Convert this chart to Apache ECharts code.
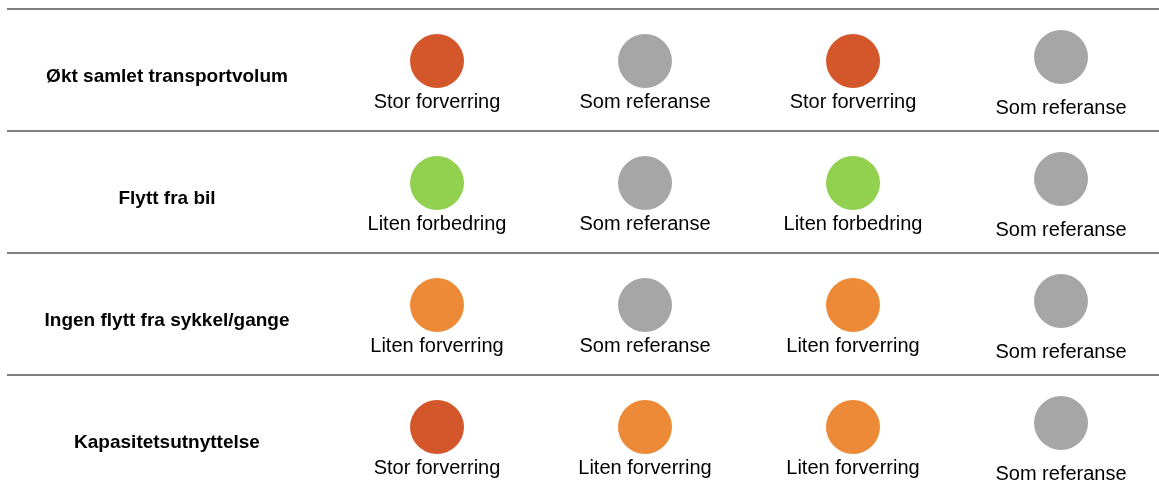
<!DOCTYPE html>
<html>
<head>
<meta charset="utf-8">
<script src="https://cdn.jsdelivr.net/npm/echarts@6/dist/echarts.min.js"></script>
<style>html,body{margin:0;padding:0;background:#fff}#c{width:1159px;height:490px}</style>
</head>
<body>
<div id="c"></div>
<script>
const rowLabels = ['Økt samlet transportvolum', 'Flytt fra bil', 'Ingen flytt fra sykkel/gange', 'Kapasitetsutnyttelse'];
const columns = ['A', 'B', 'C', 'D'];
const col1 = ['Stor forverring', 'Liten forbedring', 'Liten forverring', 'Stor forverring'];
const col2 = ['Som referanse', 'Som referanse', 'Som referanse', 'Liten forverring'];
const col3 = ['Stor forverring', 'Liten forbedring', 'Liten forverring', 'Liten forverring'];
const col4 = ['Som referanse', 'Som referanse', 'Som referanse', 'Som referanse'];
const statusColors = {
  'Stor forverring': '#D4572B',
  'Liten forverring': '#ED8A37',
  'Som referanse': '#A6A6A6',
  'Liten forbedring': '#92D050'
};
const FONT = '"Liberation Sans", Arial, sans-serif';
const cols = [col1, col2, col3, col4];

const chart = echarts.init(document.getElementById('c'));
const series = cols.map((col, ci) => {
  const last = ci === 3;
  return {
    type: 'scatter',
    xAxisIndex: 0,
    yAxisIndex: 0,
    symbol: 'circle',
    symbolSize: 54,
    symbolOffset: [0, last ? -13 : -9],
    silent: true,
    data: col.map((s, ri) => ({
      value: [columns[ci], ri, s],
      itemStyle: { color: statusColors[s], opacity: 1 }
    })),
    itemStyle: { opacity: 1 },
    label: {
      show: true,
      position: 'inside',
      offset: [0, last ? 51 : 41],
      formatter: p => p.value[2],
      color: '#000',
      opacity: 1,
      fontFamily: FONT,
      fontSize: 20
    }
  };
});

chart.setOption({
  animation: false,
  grid: [
    { left: 333, width: 832, top: 9, height: 488, outerBoundsMode: 'none', containLabel: false },
    { left: 7, width: 1152, top: 9, height: 488, outerBoundsMode: 'none', containLabel: false }
  ],
  xAxis: [
    { type: 'category', gridIndex: 0, data: columns, boundaryGap: true, show: false },
    { type: 'value', gridIndex: 1, show: false, min: 0, max: 1 }
  ],
  yAxis: [
    {
      type: 'category', gridIndex: 0, inverse: true,
      data: rowLabels.map((_, i) => i),
      axisLine: { show: false }, axisTick: { show: false }, splitLine: { show: false },
      axisLabel: {
        show: true, align: 'center', margin: 166,
        formatter: v => '\n' + rowLabels[v],
        fontFamily: FONT, fontSize: 19, fontWeight: 'bold', color: '#000',
        lineHeight: 13
      }
    },
    {
      type: 'category', gridIndex: 1, inverse: true,
      data: rowLabels.map((_, i) => i),
      axisLine: { show: false }, axisTick: { show: false }, axisLabel: { show: false },
      splitLine: { show: true, lineStyle: { color: '#7F7F7F', width: 2 } }
    }
  ],
  series: series
});
</script>
</body>
</html>
